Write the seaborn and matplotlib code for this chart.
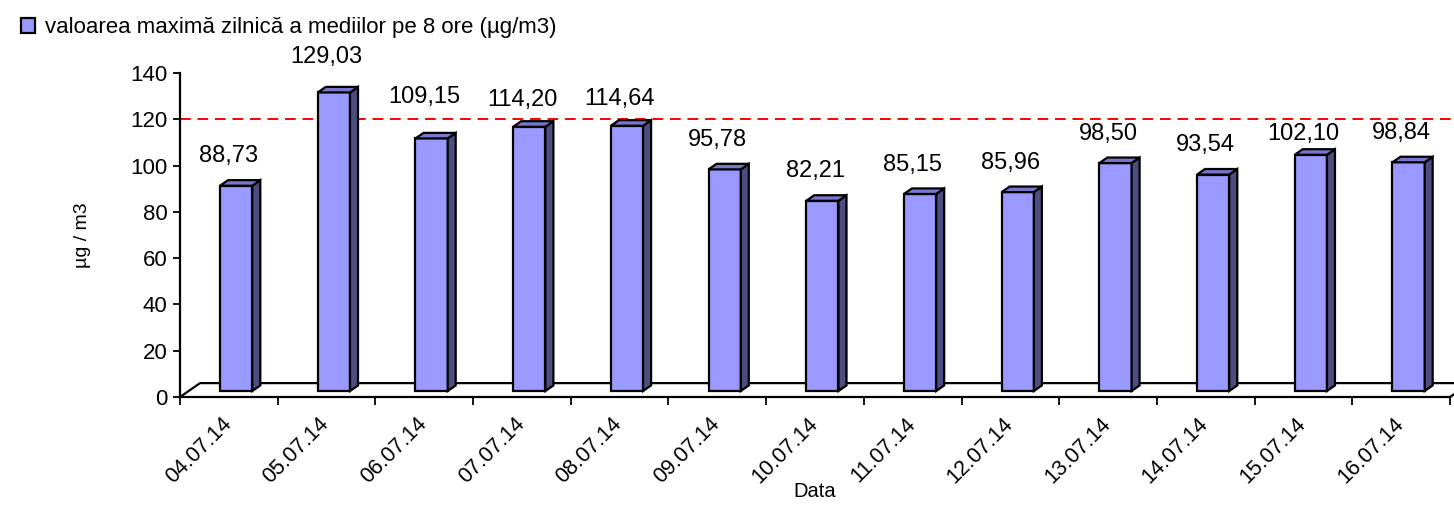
import seaborn as sns
import pandas as pd
import matplotlib.pyplot as plt
from matplotlib.patches import Polygon, Patch
from matplotlib.transforms import ScaledTranslation

sns.set_theme(style="ticks")
plt.rcParams['font.family'] = ['Liberation Sans', 'DejaVu Sans']
plt.rcParams['text.color'] = 'black'
plt.rcParams['axes.labelcolor'] = 'black'
plt.rcParams['xtick.color'] = 'black'
plt.rcParams['ytick.color'] = 'black'

dates = ['04.07.14', '05.07.14', '06.07.14', '07.07.14', '08.07.14', '09.07.14', '10.07.14',
         '11.07.14', '12.07.14', '13.07.14', '14.07.14', '15.07.14', '16.07.14']
values = [88.73, 129.03, 109.15, 114.20, 114.64, 95.78, 82.21, 85.15, 85.96, 98.50, 93.54, 102.10, 98.84]
limit = 120
series = 'valoarea maximă zilnică a mediilor pe 8 ore (µg/m3)'

df = pd.DataFrame({'Data': dates, 'val': values})

front = '#9999FF'
side = '#4D4D80'
top = '#7777CC'

fig = plt.figure(figsize=(14.54, 5.25), dpi=100)
ax = fig.add_axes([0.1238, 0.2438, 0.8735, 0.617])

sns.barplot(data=df, x='Data', y='val', color=front, width=0.33, saturation=1,
            edgecolor='black', linewidth=1.6, ax=ax)

# fake 3d depth (data units)
bdx, bdy = 0.082, 2.4     # bar depth
fdx, fdy = 0.205, 6.0     # floor depth
shift, lift = 0.075, 2.6  # bar position on the floor

for p in ax.patches:
    p.set_x(p.get_x() + shift)
    p.set_y(lift)
    p.set_zorder(3)
    x0, x1 = p.get_x(), p.get_x() + p.get_width()
    y0, y1 = p.get_y(), p.get_y() + p.get_height()
    ax.add_patch(Polygon([(x1, y0), (x1 + bdx, y0 + bdy), (x1 + bdx, y1 + bdy), (x1, y1)],
                         facecolor=side, edgecolor='black', lw=1.6, zorder=3))
    ax.add_patch(Polygon([(x0, y1), (x1, y1), (x1 + bdx, y1 + bdy), (x0 + bdx, y1 + bdy)],
                         facecolor=top, edgecolor='black', lw=1.6, zorder=3))

n = len(dates)
# floor
ax.plot([-0.5, -0.5 + fdx, n - 0.5 + fdx], [0, fdy, fdy], color='black', lw=1.6,
        clip_on=False, zorder=2)
ax.plot([n - 0.5, n - 0.5 + fdx], [0, fdy], color='black', lw=1.6, clip_on=False, zorder=2)

# limit line
ax.plot([-0.5, n - 0.5 + fdx], [limit, limit], color='red', ls=(0, (5.5, 3.5)), lw=1.4,
        clip_on=False, zorder=1)

# data labels, a few moved off the limit line as in the original
nudge = {1: 4, 2: 9, 3: -2, 4: -2, 11: -6}
for i, v in enumerate(values):
    ax.annotate(f'{v:.2f}'.replace('.', ','), (i, v), xytext=(0, 25.5 + nudge.get(i, 0)),
                textcoords='offset points', ha='center', va='center', fontsize=17)

ax.set_xlim(-0.5, n - 0.5)
ax.set_ylim(0, 140)
ax.set_yticks(range(0, 141, 20))
ax.tick_params(axis='y', labelsize=16, length=5, width=1.3, pad=4)
ax.set_xticks(range(n))
ax.set_xticklabels(dates, rotation=45, ha='right', rotation_mode='anchor', fontsize=15.5)
ax.tick_params(axis='x', which='major', length=0, pad=12)
ax.set_xticks([i - 0.5 for i in range(n + 1)], minor=True)
ax.tick_params(axis='x', which='minor', length=6, width=1.3)
for lab in ax.get_xticklabels():
    lab.set_transform(lab.get_transform() + ScaledTranslation(-0.08, 0, fig.dpi_scale_trans))

sns.despine(ax=ax)
for s in ['left', 'bottom']:
    ax.spines[s].set_color('black')
    ax.spines[s].set_linewidth(1.6)

ax.set_xlabel('Data', fontsize=14.5)
ax.xaxis.set_label_coords(0.5, -0.262)
ax.set_ylabel('µg / m3', fontsize=14, labelpad=28)

fig.legend(handles=[Patch(facecolor=front, edgecolor='black', lw=1.6, label=series)],
           loc='upper left', bbox_to_anchor=(0.001, 1.005), frameon=False, fontsize=16,
           handlelength=0.62, handleheight=0.62, handletextpad=0.45)

fig.savefig('out.png', dpi=100)
